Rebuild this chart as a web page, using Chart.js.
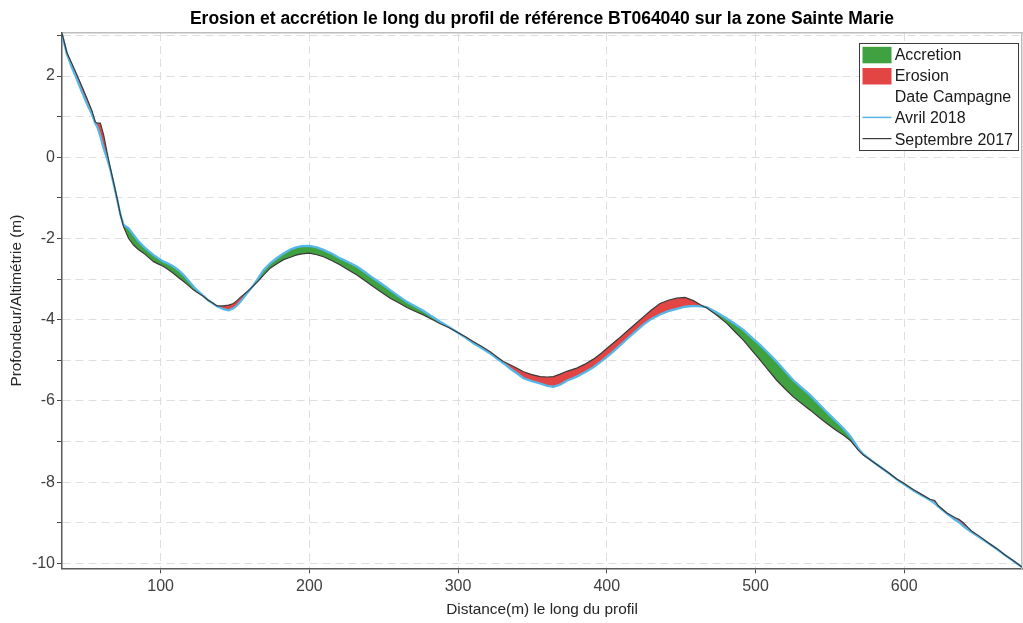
<!DOCTYPE html>
<html>
<head>
<meta charset="utf-8">
<title>Erosion et accrétion - BT064040</title>
<script src="https://cdn.jsdelivr.net/npm/chart.js@4.4.1/dist/chart.umd.min.js"></script>
<style>
  html, body { margin: 0; padding: 0; background: #fff; }
  #wrap { width: 1023px; height: 623px; position: relative; }
</style>
</head>
<body>
<div id="wrap"><canvas id="profil"></canvas></div>
<script>
// distance le long du profil (m)
const distances = [
  33.7, 37, 40.4, 43.7, 47.1, 50.5, 53.9, 56.1, 57.5, 59.5, 61.7, 64, 66.2, 68.5, 70.7, 72.9, 75,
  78.5, 81.8, 85, 88.6, 92, 95.3, 98.6, 102, 105.3, 108.7, 112, 115.5, 118.8, 122.2, 125.5, 128.9,
  132, 135.6, 138, 142.3, 145.7, 149, 151.3, 153.6, 156, 158.1, 160.3, 162.5,
  165.8, 169.2, 173.7, 178.2, 182.7, 187.3, 191, 195, 200.1, 205, 209.5, 215, 220.8, 226, 232, 237.5,
  243.1, 248.7, 254.4, 260, 265.6, 271, 276.7, 282, 288, 293.6, 299.2,
  305, 310.4, 316, 321.6, 326, 330.5, 335, 340, 344, 349.6, 355.2, 360, 364.1, 368.6, 373.1, 379.8,
  385, 391, 396.5, 402.2, 407.8, 413.4, 419, 424.6, 430, 435.8, 441.4, 447, 452.6, 458.2, 463, 467.2,
  474, 480.7, 486, 491.8, 497, 503, 508.6, 514.2, 519.8, 525.4, 531, 536.6, 542.2, 547.8, 553.4, 559, 564, 569.1,
  572.5, 578, 583.7, 590, 595, 600, 606, 611.7, 617.3, 620.5, 623, 628.5, 634, 637, 639.7, 643, 645.3,
  650.9, 656.5, 662.1, 668, 673, 679.2
];

// Avril 2018 (m)
const avril2018 = [
  3.03, 2.54, 2.21, 1.92, 1.61, 1.32, 1.05, 0.84, 0.74, 0.52, 0.22, -0.03, -0.30, -0.67, -1.03, -1.40, -1.66,
  -1.75, -1.91, -2.06, -2.20, -2.31, -2.41, -2.49, -2.57, -2.62, -2.69, -2.78, -2.90, -3.04, -3.19, -3.31, -3.42,
  -3.52, -3.61, -3.67, -3.74, -3.77, -3.72, -3.65, -3.56, -3.45, -3.35, -3.25, -3.15,
  -2.97, -2.78, -2.61, -2.48, -2.37, -2.27, -2.22, -2.19, -2.18, -2.22, -2.28, -2.37, -2.49, -2.58, -2.69, -2.83,
  -2.98, -3.12, -3.27, -3.42, -3.56, -3.67, -3.78, -3.91, -4.05, -4.17, -4.30,
  -4.44, -4.58, -4.70, -4.83, -4.95, -5.07, -5.20, -5.33, -5.44, -5.51, -5.57, -5.63, -5.65, -5.60, -5.50, -5.40,
  -5.30, -5.17, -5.02, -4.85, -4.67, -4.48, -4.30, -4.12, -3.98, -3.87, -3.79, -3.73, -3.68, -3.66, -3.67, -3.69,
  -3.82, -3.97, -4.10, -4.25, -4.42, -4.62, -4.82, -5.03, -5.26, -5.49, -5.67, -5.85, -6.06, -6.27, -6.47, -6.67, -6.88, -7.17,
  -7.31, -7.47, -7.62, -7.79, -7.93, -8.05, -8.20, -8.32, -8.44, -8.52, -8.60, -8.77, -8.92, -8.99, -9.08, -9.17, -9.23,
  -9.36, -9.50, -9.64, -9.80, -9.93, -10.09
];

// Septembre 2017 (m)
const septembre2017 = [
  3.05, 2.58, 2.30, 2.03, 1.74, 1.45, 1.14, 0.87, 0.84, 0.84, 0.55, 0.12, -0.26, -0.63, -1.00, -1.40, -1.70,
  -2.00, -2.16, -2.27, -2.36, -2.47, -2.57, -2.63, -2.69, -2.77, -2.86, -2.96, -3.06, -3.16, -3.27, -3.35, -3.43,
  -3.52, -3.60, -3.66, -3.66, -3.64, -3.60, -3.53, -3.45, -3.38, -3.31, -3.24, -3.16,
  -3.04, -2.90, -2.73, -2.62, -2.52, -2.46, -2.41, -2.38, -2.36, -2.40, -2.45, -2.54, -2.65, -2.77, -2.90, -3.04,
  -3.19, -3.33, -3.47, -3.58, -3.70, -3.79, -3.88, -3.98, -4.10, -4.19, -4.30,
  -4.42, -4.54, -4.66, -4.79, -4.91, -5.03, -5.11, -5.20, -5.28, -5.35, -5.40, -5.41, -5.40, -5.34, -5.27, -5.19,
  -5.10, -4.97, -4.82, -4.64, -4.47, -4.29, -4.11, -3.93, -3.76, -3.60, -3.52, -3.47, -3.45, -3.53, -3.63, -3.71,
  -3.89, -4.09, -4.29, -4.50, -4.73, -4.99, -5.24, -5.49, -5.70, -5.90, -6.06, -6.22, -6.39, -6.55, -6.70, -6.84, -6.98, -7.21,
  -7.33, -7.47, -7.62, -7.78, -7.92, -8.03, -8.18, -8.30, -8.42, -8.45, -8.58, -8.75, -8.87, -8.92, -9.00, -9.12, -9.20,
  -9.34, -9.49, -9.63, -9.80, -9.92, -10.09
];

const xTicks = [100, 200, 300, 400, 500, 600];
const yTicks = [-10, -9, -8, -7, -6, -5, -4, -3, -2, -1, 0, 1, 2, 3];

const legendLabels = ['Accretion', 'Erosion', 'Date Campagne', 'Avril 2018', 'Septembre 2017'];

const GREEN = '#3fa13f';
const RED = '#e34545';
const BLUE = '#55b6e8';
const DARK = '#3a3a3a';
const FONT = "'Liberation Sans', Arial, Helvetica, sans-serif";

Chart.defaults.font.family = FONT;

const xMin = 33.7, xMax = 679.2;
const yMin = -10.12, yMax = 3.06;

// legend drawn inside the axes, top right, MATLAB style
const boxLegend = {
  id: 'boxLegend',
  afterDraw(chart) {
    const { ctx, chartArea } = chart;
    const w = 160, h = 108;
    const x0 = chartArea.right - 3 - w;
    const y0 = chartArea.top + 10;
    const kinds = [
      { type: 'box', color: GREEN },
      { type: 'box', color: RED },
      { type: 'none' },
      { type: 'line', color: BLUE, width: 1.5 },
      { type: 'line', color: DARK, width: 1.2 }
    ];
    ctx.save();
    ctx.fillStyle = '#fff';
    ctx.fillRect(x0, y0, w, h);
    ctx.strokeStyle = '#3a3a3a';
    ctx.lineWidth = 1;
    ctx.strokeRect(x0 + 0.5, y0 + 0.5, w - 1, h - 1);
    ctx.font = '16px ' + FONT;
    ctx.textBaseline = 'middle';
    legendLabels.forEach((txt, i) => {
      const cy = y0 + 12.3 + i * 21.2;
      const k = kinds[i];
      if (k.type === 'box') {
        ctx.fillStyle = k.color;
        ctx.fillRect(x0 + 3.5, cy - 8.5, 29, 16.5);
      } else if (k.type === 'line') {
        ctx.strokeStyle = k.color;
        ctx.lineWidth = k.width;
        ctx.beginPath();
        ctx.moveTo(x0 + 3.5, cy - 1.5);
        ctx.lineTo(x0 + 32.5, cy - 1.5);
        ctx.stroke();
      }
      ctx.fillStyle = '#1a1a1a';
      ctx.fillText(txt, x0 + 35.7, cy);
    });
    ctx.restore();
  }
};

const gridDash = [8, 5];

new Chart(document.getElementById('profil'), {
  type: 'line',
  data: {
    datasets: [
      {
        label: 'Avril 2018',
        data: distances.map((d, i) => ({ x: d, y: avril2018[i] })),
        borderColor: BLUE,
        borderWidth: 2.3,
        pointRadius: 0,
        tension: 0,
        order: 1,
        fill: { target: 1, above: GREEN, below: RED }
      },
      {
        label: 'Septembre 2017',
        data: distances.map((d, i) => ({ x: d, y: septembre2017[i] })),
        borderColor: DARK,
        borderWidth: 1.2,
        pointRadius: 0,
        tension: 0,
        order: 0,
        fill: false
      }
    ]
  },
  options: {
    responsive: true,
    maintainAspectRatio: false,
    animation: false,
    layout: { padding: 0 },
    plugins: {
      legend: { display: false },
      title: { display: false },
      tooltip: { enabled: false },
      filler: { drawTime: 'beforeDatasetsDraw' }
    },
    scales: {
      x: {
        type: 'linear',
        position: 'bottom',
        min: xMin,
        max: xMax,
        afterFit(s) { s.height = 54.7; },
        afterBuildTicks(s) { s.ticks = xTicks.map(v => ({ value: v })); },
        ticks: { padding: 4, color: '#404040', font: { size: 16 }, maxRotation: 0, autoSkip: false },
        grid: { color: '#dedede', lineWidth: 1, tickLength: 5, tickColor: '#4a4a4a', tickBorderDash: [] },
        border: { display: true, color: '#5a5a5a', width: 1.5, dash: gridDash },
        title: {
          display: true,
          text: 'Distance(m) le long du profil',
          color: '#262626',
          font: { size: 15.4 },
          padding: { top: 0, bottom: 4.5 }
        }
      },
      xTop: {
        type: 'linear',
        position: 'top',
        min: xMin,
        max: xMax,
        afterFit(s) { s.height = 33; },
        ticks: { display: false },
        grid: { display: false, drawTicks: false },
        border: { display: true, color: '#bdbdbd', width: 1.5 },
        title: {
          display: true,
          text: 'Erosion et accrétion le long du profil de référence BT064040 sur la zone Sainte Marie',
          color: '#000',
          font: { size: 17.5, weight: 'bold' },
          padding: { top: 8.5, bottom: 0 }
        }
      },
      y: {
        type: 'linear',
        position: 'left',
        min: yMin,
        max: yMax,
        afterFit(s) { s.width = 62; },
        afterBuildTicks(s) { s.ticks = yTicks.map(v => ({ value: v })); },
        ticks: {
          padding: 2,
          color: '#404040',
          font: { size: 16 },
          autoSkip: false,
          callback: v => (v % 2 === 0 ? String(v) : '')
        },
        grid: { color: '#dedede', lineWidth: 1, tickLength: 5, tickColor: '#4a4a4a', tickBorderDash: [] },
        border: { display: true, color: '#5a5a5a', width: 1.5, dash: gridDash },
        title: {
          display: true,
          text: 'Profondeur/Altimétrie (m)',
          color: '#262626',
          font: { size: 15.4 },
          padding: { top: 7.5, bottom: 0 }
        }
      },
      yRight: {
        type: 'linear',
        position: 'right',
        min: yMin,
        max: yMax,
        afterFit(s) { s.width = 1; },
        ticks: { display: false },
        grid: { display: false, drawTicks: false },
        border: { display: true, color: '#bdbdbd', width: 1.5 }
      }
    }
  },
  plugins: [boxLegend]
});
</script>
</body>
</html>
